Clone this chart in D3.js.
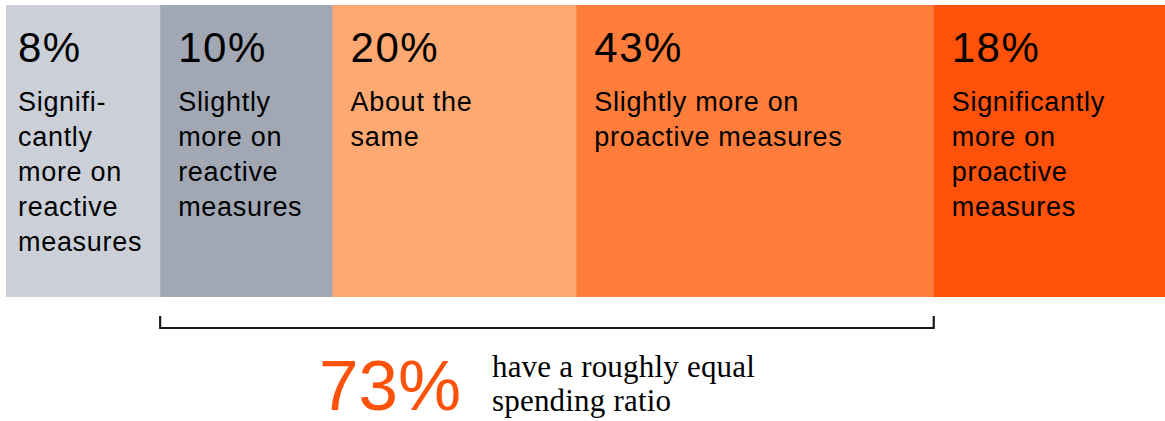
<!DOCTYPE html>
<html>
<head>
<meta charset="utf-8">
<script src="https://cdn.jsdelivr.net/npm/d3@7"></script>
<style>
  html, body { margin: 0; padding: 0; background: #fff; }
  svg { display: block; }
</style>
</head>
<body>
<svg id="chart" width="1165" height="421"></svg>
<script>
// ---- data ----
const categories = [
  "Signifi-\ncantly\nmore on\nreactive\nmeasures",
  "Slightly\nmore on\nreactive\nmeasures",
  "About the\nsame",
  "Slightly more on\nproactive measures",
  "Significantly\nmore on\nproactive\nmeasures"
];
const shares = [8, 10, 20, 43, 18];
const colors = ["#cbd0d8", "#a1a8b4", "#fea972", "#fe7d3b", "#fe520a"];
const bracketRange = [1, 3];           // segments covered by the bracket
const summaryValue = "73%";
const summaryText = ["have a roughly equal", "spending ratio"];

// ---- layout ----
const W = 1165, H = 421;
const barTop = 5, barBottom = 297;
const svg = d3.select("#chart");

// segment widths follow a square-root weighting of the shares
const wScale = d3.scaleSqrt().domain([0, 1]).range([0, 1]);
const weights = shares.map(v => wScale(v));
const starts = [0];
weights.forEach((w, i) => starts.push(starts[i] + w));
const x = d3.scaleLinear().domain([0, starts[starts.length - 1]]).range([6, W]);

const segs = shares.map((v, i) => ({
  v, label: categories[i], color: colors[i],
  x0: x(starts[i]), x1: x(starts[i + 1])
}));

const g = svg.append("g");
g.selectAll("rect").data(segs).join("rect")
  .attr("x", d => d.x0)
  .attr("y", barTop)
  .attr("width", d => d.x1 - d.x0 + 0.5)
  .attr("height", barBottom - barTop)
  .attr("fill", d => d.color);

const pad = d => (d.x1 - d.x0 < 160 ? 12 : 18);

g.selectAll("text.pct").data(segs).join("text")
  .attr("class", "pct")
  .attr("x", d => d.x0 + pad(d))
  .attr("y", 62)
  .attr("font-family", "'Liberation Sans', Arial, sans-serif")
  .attr("font-size", 42)
  .attr("letter-spacing", 1.5)
  .attr("fill", "#000")
  .text(d => d.v + "%");

const lab = g.selectAll("text.lab").data(segs).join("text")
  .attr("class", "lab")
  .attr("x", d => d.x0 + pad(d))
  .attr("y", 111)
  .attr("font-family", "'Liberation Sans', Arial, sans-serif")
  .attr("font-size", 27)
  .attr("letter-spacing", 0.7)
  .attr("fill", "#000");
lab.each(function(d) {
  const t = d3.select(this);
  d.label.split("\n").forEach((line, k) => {
    t.append("tspan")
      .attr("x", d.x0 + pad(d))
      .attr("y", 111 + k * 35)
      .text(line);
  });
});

// ---- bracket ----
const bx0 = segs[bracketRange[0]].x0;
const bx1 = segs[bracketRange[1]].x1;
const by = 328, tickTop = 316;
svg.append("path")
  .attr("d", `M${bx0},${tickTop}V${by}H${bx1}V${tickTop}`)
  .attr("fill", "none")
  .attr("stroke", "#1a1a1a")
  .attr("stroke-width", 2.2);

// ---- summary ----
const cx = (bx0 + bx1) / 2;
svg.append("text")
  .attr("x", cx - 228)
  .attr("y", 410)
  .attr("font-family", "'Liberation Sans', Arial, sans-serif")
  .attr("font-size", 71)
  .attr("fill", colors[4])
  .text(summaryValue);

summaryText.forEach((line, k) => {
  svg.append("text")
    .attr("x", cx - 55)
    .attr("y", 377 + k * 34)
    .attr("font-family", "'Liberation Serif', 'Times New Roman', serif")
    .attr("font-size", 31)
    .attr("letter-spacing", 0.2)
    .attr("fill", "#000")
    .text(line);
});
</script>
</body>
</html>
